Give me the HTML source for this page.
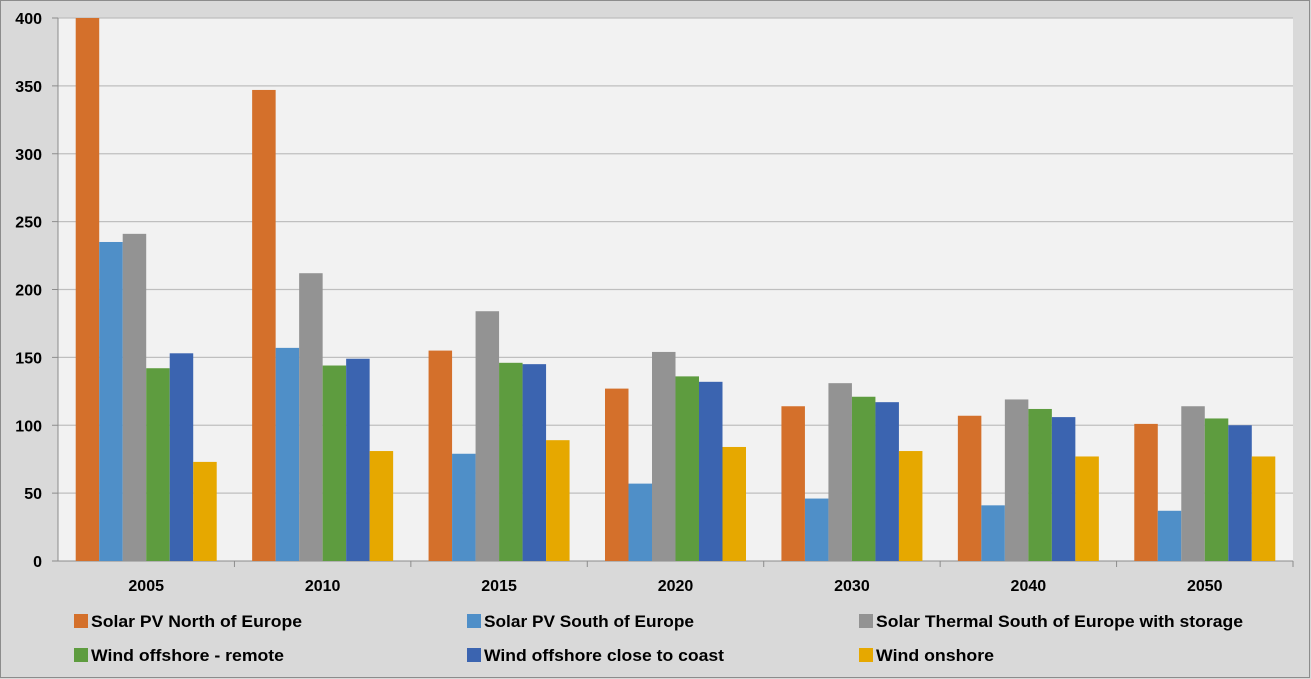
<!DOCTYPE html>
<html><head><meta charset="utf-8"><style>
html,body{margin:0;padding:0;background:#d9d9d9;}
svg{display:block;}
text{font-family:"Liberation Sans",Arial,sans-serif;font-weight:bold;fill:#000;}
</style></head><body>
<svg id="c" width="1311" height="679" xmlns="http://www.w3.org/2000/svg">
<rect x="0.5" y="0.5" width="1309" height="677" fill="#d9d9d9" stroke="#8c8c8c"/>
<rect x="58" y="18" width="1235" height="543" fill="#f2f2f2"/>
<g id="g"></g>
</svg>
<script>
var g=document.getElementById('g'),ns='http://www.w3.org/2000/svg';
function el(t,a,txt){var e=document.createElementNS(ns,t);for(var k in a)e.setAttribute(k,a[k]);if(txt!=null)e.textContent=txt;g.appendChild(e);return e;}
var x0=58,x1=1293,y0=561,s=543/400;
for(var v=0;v<=400;v+=50){var y=y0-v*s;
 if(v>0)el('line',{x1:x0,x2:x1,y1:y,y2:y,stroke:'#bfbfbf','stroke-width':1.2});
 el('line',{x1:x0-6,x2:x0,y1:y,y2:y,stroke:'#8c8c8c'});
 el('text',{x:42,y:y+6,'text-anchor':'end','font-size':16},v);}
el('line',{x1:x0,x2:x0,y1:18,y2:y0,stroke:'#8c8c8c'});
el('line',{x1:x0,x2:x1,y1:y0,y2:y0,stroke:'#8c8c8c'});
var cats=['2005','2010','2015','2020','2030','2040','2050'];
var data=[[400,235,241,142,153,73],[347,157,212,144,149,81],[155,79,184,146,145,89],[127,57,154,136,132,84],[114,46,131,121,117,81],[107,41,119,112,106,77],[101,37,114,105,100,77]];
var cols=['#d4702b','#4f8fc8','#939393','#5e9c3f','#3b64b0','#e6a800'];
var cw=(x1-x0)/7,bw=23.5;
for(var i=0;i<7;i++){var cx=x0+i*cw,st=cx+(cw-6*bw)/2;
 el('line',{x1:cx+cw,x2:cx+cw,y1:y0,y2:y0+6,stroke:'#8c8c8c'});
 for(var j=0;j<6;j++){var h=data[i][j]*s;el('rect',{x:st+j*bw,y:y0-h,width:bw,height:h,fill:cols[j]});}
 el('text',{x:cx+cw/2,y:y0+30,'text-anchor':'middle','font-size':16},cats[i]);}
var leg=[['Solar PV North of Europe',74,627,211],['Solar PV South of Europe',467,627,210],['Solar Thermal South of Europe with storage',859,627,367],['Wind offshore - remote',74,661,193],['Wind offshore close to coast',467,661,240],['Wind onshore',859,661,118]];
leg.forEach(function(l,j){el('rect',{x:l[1],y:l[2]-13,width:14,height:14,fill:cols[j]});
 el('text',{x:l[1]+17,y:l[2],'font-size':17,textLength:l[3],lengthAdjust:'spacingAndGlyphs'},l[0]);});
</script>
</body></html>
